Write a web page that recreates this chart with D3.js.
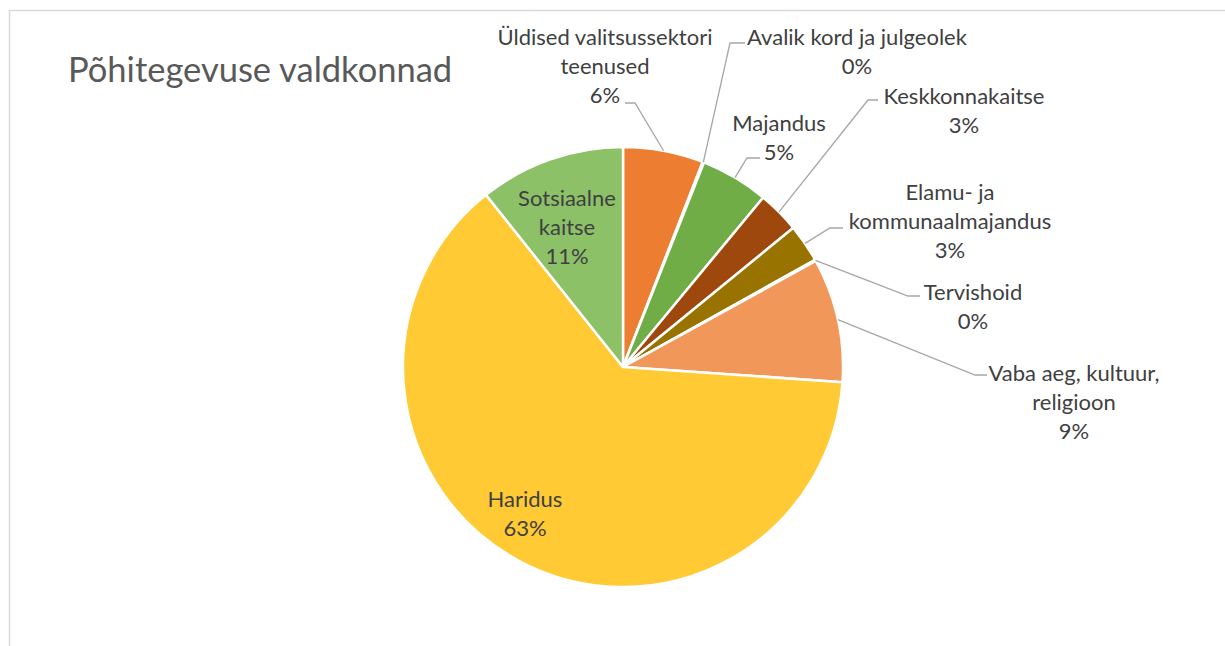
<!DOCTYPE html>
<html>
<head>
<meta charset="utf-8">
<script src="https://cdn.jsdelivr.net/npm/d3@7"></script>
<style>
  body { margin: 0; background: #fff; }
  svg { display: block; }
</style>
</head>
<body>
<script>
// Data
var categories = [
  ["Üldised valitsussektori", "teenused"],
  ["Avalik kord ja julgeolek"],
  ["Majandus"],
  ["Keskkonnakaitse"],
  ["Elamu- ja", "kommunaalmajandus"],
  ["Tervishoid"],
  ["Vaba aeg, kultuur,", "religioon"],
  ["Haridus"],
  ["Sotsiaalne", "kaitse"]
];
var values = [5.9, 0.1, 5.0, 3.1, 2.8, 0.1, 9.1, 63.2, 10.7];
var colors = ["#ED7D31", "#A5A5A5", "#70AD47", "#9E480E", "#997300", "#43682B", "#F1975A", "#FFCA33", "#8CC168"];

var width = 1225, height = 646;
var cx = 623, cy = 367, radius = 220;

// label layout: text centre x, first line y, leader elbow (null = inside label)
var labelLayout = [
  {x: 605, y: 45,  elbow: [[625, 103], [635, 103]]},
  {x: 857, y: 45,  elbow: [[745, 43], [730, 43]]},
  {x: 779, y: 131, elbow: [[760, 158], [747, 158]]},
  {x: 964, y: 104, elbow: [[878, 100], [868, 100]]},
  {x: 950, y: 200, elbow: [[843, 228], [830, 228]]},
  {x: 973, y: 300, elbow: [[920, 296], [908, 296]]},
  {x: 1074, y: 381, elbow: [[987, 375], [975, 375]]},
  {x: 525, y: 507, elbow: null},
  {x: 567, y: 206, elbow: null}
];

var svg = d3.select("body").append("svg").attr("width", width).attr("height", height);

// chart border
svg.append("rect").attr("x", 9.5).attr("y", 10.5).attr("width", width).attr("height", height)
  .attr("fill", "none").attr("stroke", "#d9d9d9").attr("stroke-width", 1.5);

svg.append("text").attr("x", 68).attr("y", 82)
  .attr("font-family", "Lato, sans-serif").attr("font-size", 34.5).attr("fill", "#595959")
  .text("Põhitegevuse valdkonnad");

var total = d3.sum(values);
var pie = d3.pie().sort(null).value(function(d){ return d; });
var arcs = pie(values);
var arc = d3.arc().innerRadius(0).outerRadius(radius);

var g = svg.append("g").attr("transform", "translate(" + cx + "," + cy + ")");

g.selectAll("path.slice").data(arcs).enter().append("path")
  .attr("class", "slice")
  .attr("d", arc)
  .attr("fill", function(d, i){ return colors[i]; })
  .attr("stroke", "#fff").attr("stroke-width", 2.5).attr("stroke-linejoin", "round");

// leader lines
arcs.forEach(function(d, i){
  var L = labelLayout[i];
  if (!L.elbow) return;
  var a = (d.startAngle + d.endAngle) / 2;
  var px = cx + Math.sin(a) * radius, py = cy - Math.cos(a) * radius;
  var pts = L.elbow.concat([[px, py]]);
  svg.append("path").attr("d", d3.line()(pts))
    .attr("fill", "none").attr("stroke", "#a6a6a6").attr("stroke-width", 1.3);
});

// labels
var pct = d3.format(".0%");
arcs.forEach(function(d, i){
  var L = labelLayout[i];
  var lines = categories[i].concat([pct(values[i] / total)]);
  var t = svg.append("text").attr("text-anchor", "middle")
    .attr("font-family", "Lato, sans-serif").attr("font-size", 22).attr("fill", "#404040");
  lines.forEach(function(s, k){
    t.append("tspan").attr("x", L.x).attr("y", L.y + k * 29).text(s);
  });
});
</script>
</body>
</html>
